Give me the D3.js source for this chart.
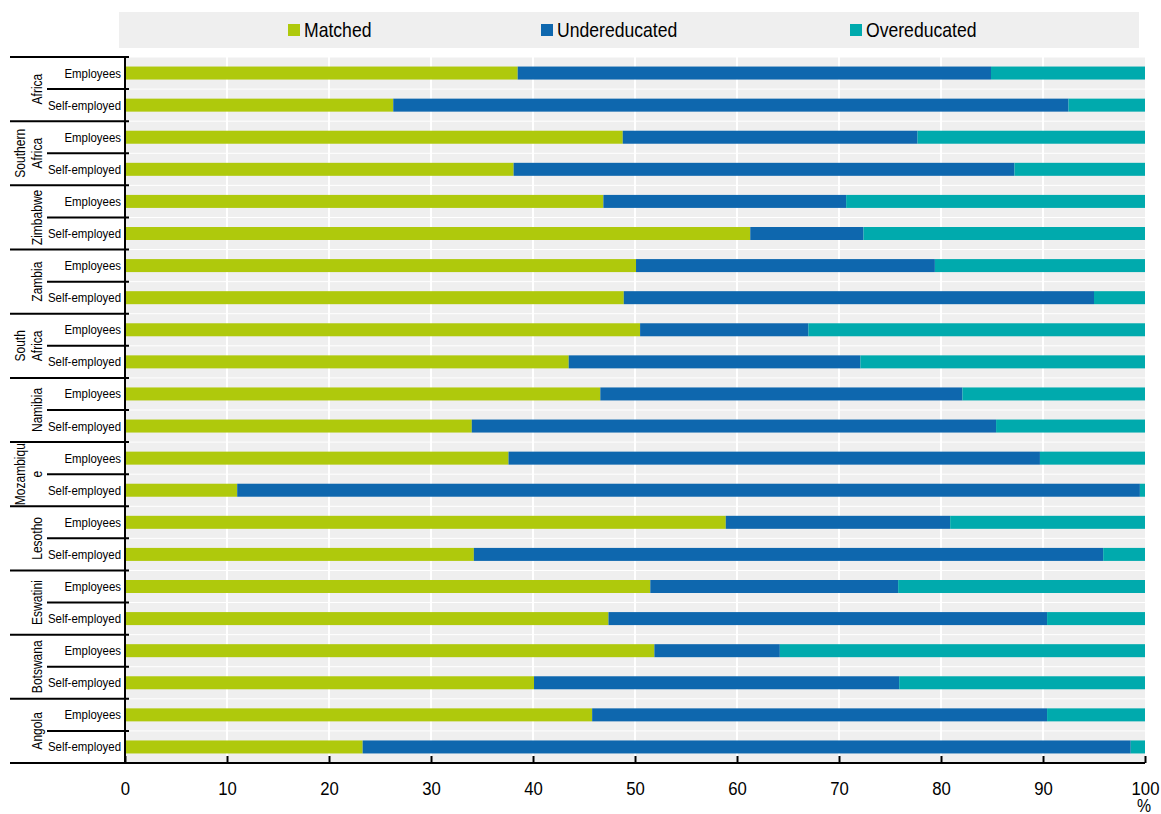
<!doctype html>
<html lang="en">
<head>
<meta charset="utf-8">
<title>Education mismatch</title>
<script src="https://cdn.jsdelivr.net/npm/d3@7"></script>
<style>
  body { margin: 0; background: #fff; }
  text { font-family: "Liberation Sans", Arial, sans-serif; fill: #000; }
</style>
</head>
<body>
<script>
// groups (top to bottom) and their two rows
var groups = ["Africa", "Southern Africa", "Zimbabwe", "Zambia", "South Africa", "Namibia", "Mozambique", "Lesotho", "Eswatini", "Botswana", "Angola"];
var groupLines = [["Africa"], ["Southern", "Africa"], ["Zimbabwe"], ["Zambia"], ["South", "Africa"], ["Namibia"], ["Mozambiqu", "e"], ["Lesotho"], ["Eswatini"], ["Botswana"], ["Angola"]];
var rowTypes = ["Employees", "Self-employed"];
var series = ["Matched", "Undereducated", "Overeducated"];
var colors = ["#afc90c", "#0e67ae", "#00aaad"];

// values in %, order: groups x rowTypes
var matched = [38.5, 26.3, 48.8, 38.1, 46.9, 61.3, 50.1, 48.9, 50.5, 43.5, 46.6, 34.0, 37.6, 11.0, 58.9, 34.2, 51.5, 47.4, 51.9, 40.1, 45.8, 23.3];
var undereducated = [46.4, 66.2, 28.9, 49.1, 23.8, 11.1, 29.3, 46.1, 16.5, 28.6, 35.5, 51.4, 52.1, 88.5, 22.0, 61.7, 24.3, 43.0, 12.3, 35.8, 44.6, 75.3];
var overeducated = [15.1, 7.5, 22.3, 12.8, 29.3, 27.6, 20.6, 5.0, 33.0, 27.9, 17.9, 14.6, 10.3, 0.5, 19.1, 4.1, 24.2, 9.6, 35.8, 24.1, 9.6, 1.4];
var xTicks = [0, 10, 20, 30, 40, 50, 60, 70, 80, 90, 100];

var W = 1161, H = 814;
var plotL = 125, plotR = 1145, plotT = 57, plotB = 763;
var narrow = 0.88; // the original uses a condensed face

var rows = [];
groups.forEach(function(g, gi) {
  rowTypes.forEach(function(t, ti) {
    var i = gi * 2 + ti;
    rows.push({key: g + "|" + t, group: g, type: t, Matched: matched[i], Undereducated: undereducated[i], Overeducated: overeducated[i]});
  });
});

var svg = d3.select("body").append("svg").attr("width", W).attr("height", H);

var x = d3.scaleLinear().domain([0, 100]).range([plotL, plotR]);
var y = d3.scaleBand().domain(rows.map(function(d){ return d.key; })).range([plotT, plotB]).paddingInner(0).paddingOuter(0);

// legend
var leg = svg.append("g");
leg.append("rect").attr("x", 119).attr("y", 12).attr("width", 1020).attr("height", 36).attr("fill", "#efefef");
var legX = [288, 541, 850];
series.forEach(function(s, i) {
  leg.append("rect").attr("x", legX[i]).attr("y", 24).attr("width", 12).attr("height", 12).attr("fill", colors[i]);
  leg.append("text").attr("transform", "translate(" + (legX[i] + 16) + ",37) scale(" + narrow + ",1)")
    .attr("font-size", 20).text(s);
});

// row backgrounds
svg.append("g").selectAll("rect").data(rows).enter().append("rect")
  .attr("x", plotL).attr("width", plotR - plotL)
  .attr("y", function(d){ return y(d.key) + 0.5; })
  .attr("height", y.bandwidth() - 1)
  .attr("fill", "#efefef");

// vertical gridlines
svg.append("g").selectAll("line").data(xTicks.slice(1, -1)).enter().append("line")
  .attr("x1", function(d){ return x(d); }).attr("x2", function(d){ return x(d); })
  .attr("y1", plotT).attr("y2", plotB)
  .attr("stroke", "#fff").attr("stroke-width", 2);

// stacked bars
var stack = d3.stack().keys(series);
var layers = stack(rows);
var barH = 13;
svg.append("g").selectAll("g").data(layers).enter().append("g")
  .attr("fill", function(d, i){ return colors[i]; })
  .selectAll("rect").data(function(d){ return d; }).enter().append("rect")
  .attr("x", function(d){ return x(d[0]); })
  .attr("width", function(d){ return x(d[1]) - x(d[0]); })
  .attr("y", function(d){ return y(d.data.key) + (y.bandwidth() - barH) / 2; })
  .attr("height", barH);

// row labels
svg.append("g").selectAll("text").data(rows).enter().append("text")
  .attr("transform", function(d){ return "translate(121," + (y(d.key) + y.bandwidth() / 2 + 4.5) + ") scale(" + narrow + ",1)"; })
  .attr("text-anchor", "end").attr("font-size", 13)
  .text(function(d){ return d.type; });

// group labels and separators
var sep = svg.append("g").attr("stroke", "#000");
groups.forEach(function(g, gi) {
  var top = y(g + "|" + rowTypes[0]);
  var mid = y(g + "|" + rowTypes[1]);
  var bot = mid + y.bandwidth();
  sep.append("line").attr("x1", 10).attr("x2", 129).attr("y1", top).attr("y2", top).attr("stroke-width", 2);
  sep.append("line").attr("x1", 47).attr("x2", 129).attr("y1", mid).attr("y2", mid).attr("stroke-width", 2);
  var cy = (top + bot) / 2;
  var lines = groupLines[gi];
  var t = svg.append("text").attr("font-size", 14).attr("text-anchor", "middle")
    .attr("transform", "translate(" + (lines.length > 1 ? 25 : 42) + "," + cy + ") rotate(-90) scale(0.86,1)");
  lines.forEach(function(l, li) {
    t.append("tspan").attr("x", 0).attr("dy", li === 0 ? 0 : 17).text(l);
  });
});

// y axis line
svg.append("line").attr("x1", plotL).attr("x2", plotL).attr("y1", plotT).attr("y2", plotB)
  .attr("stroke", "#000").attr("stroke-width", 2);

// x axis
var xAxis = d3.axisBottom(x).tickValues(xTicks).tickSize(-7).tickPadding(0).tickFormat(d3.format("d"));
var ax = svg.append("g").attr("transform", "translate(0," + plotB + ")").call(xAxis);
ax.select(".domain").remove();
ax.selectAll(".tick line").attr("stroke", "#000").attr("stroke-width", 2);
ax.selectAll(".tick text").attr("font-size", 19).attr("font-family", null).attr("fill", "#000")
  .attr("y", 0).attr("dy", null)
  .attr("transform", "translate(0,32) scale(" + narrow + ",1)");
svg.append("line").attr("x1", 10).attr("x2", plotR).attr("y1", plotB).attr("y2", plotB)
  .attr("stroke", "#000").attr("stroke-width", 2);
svg.append("text").attr("transform", "translate(" + (x(100) - 8) + ",812) scale(" + narrow + ",1)")
  .attr("font-size", 18).text("%");
</script>
</body>
</html>
